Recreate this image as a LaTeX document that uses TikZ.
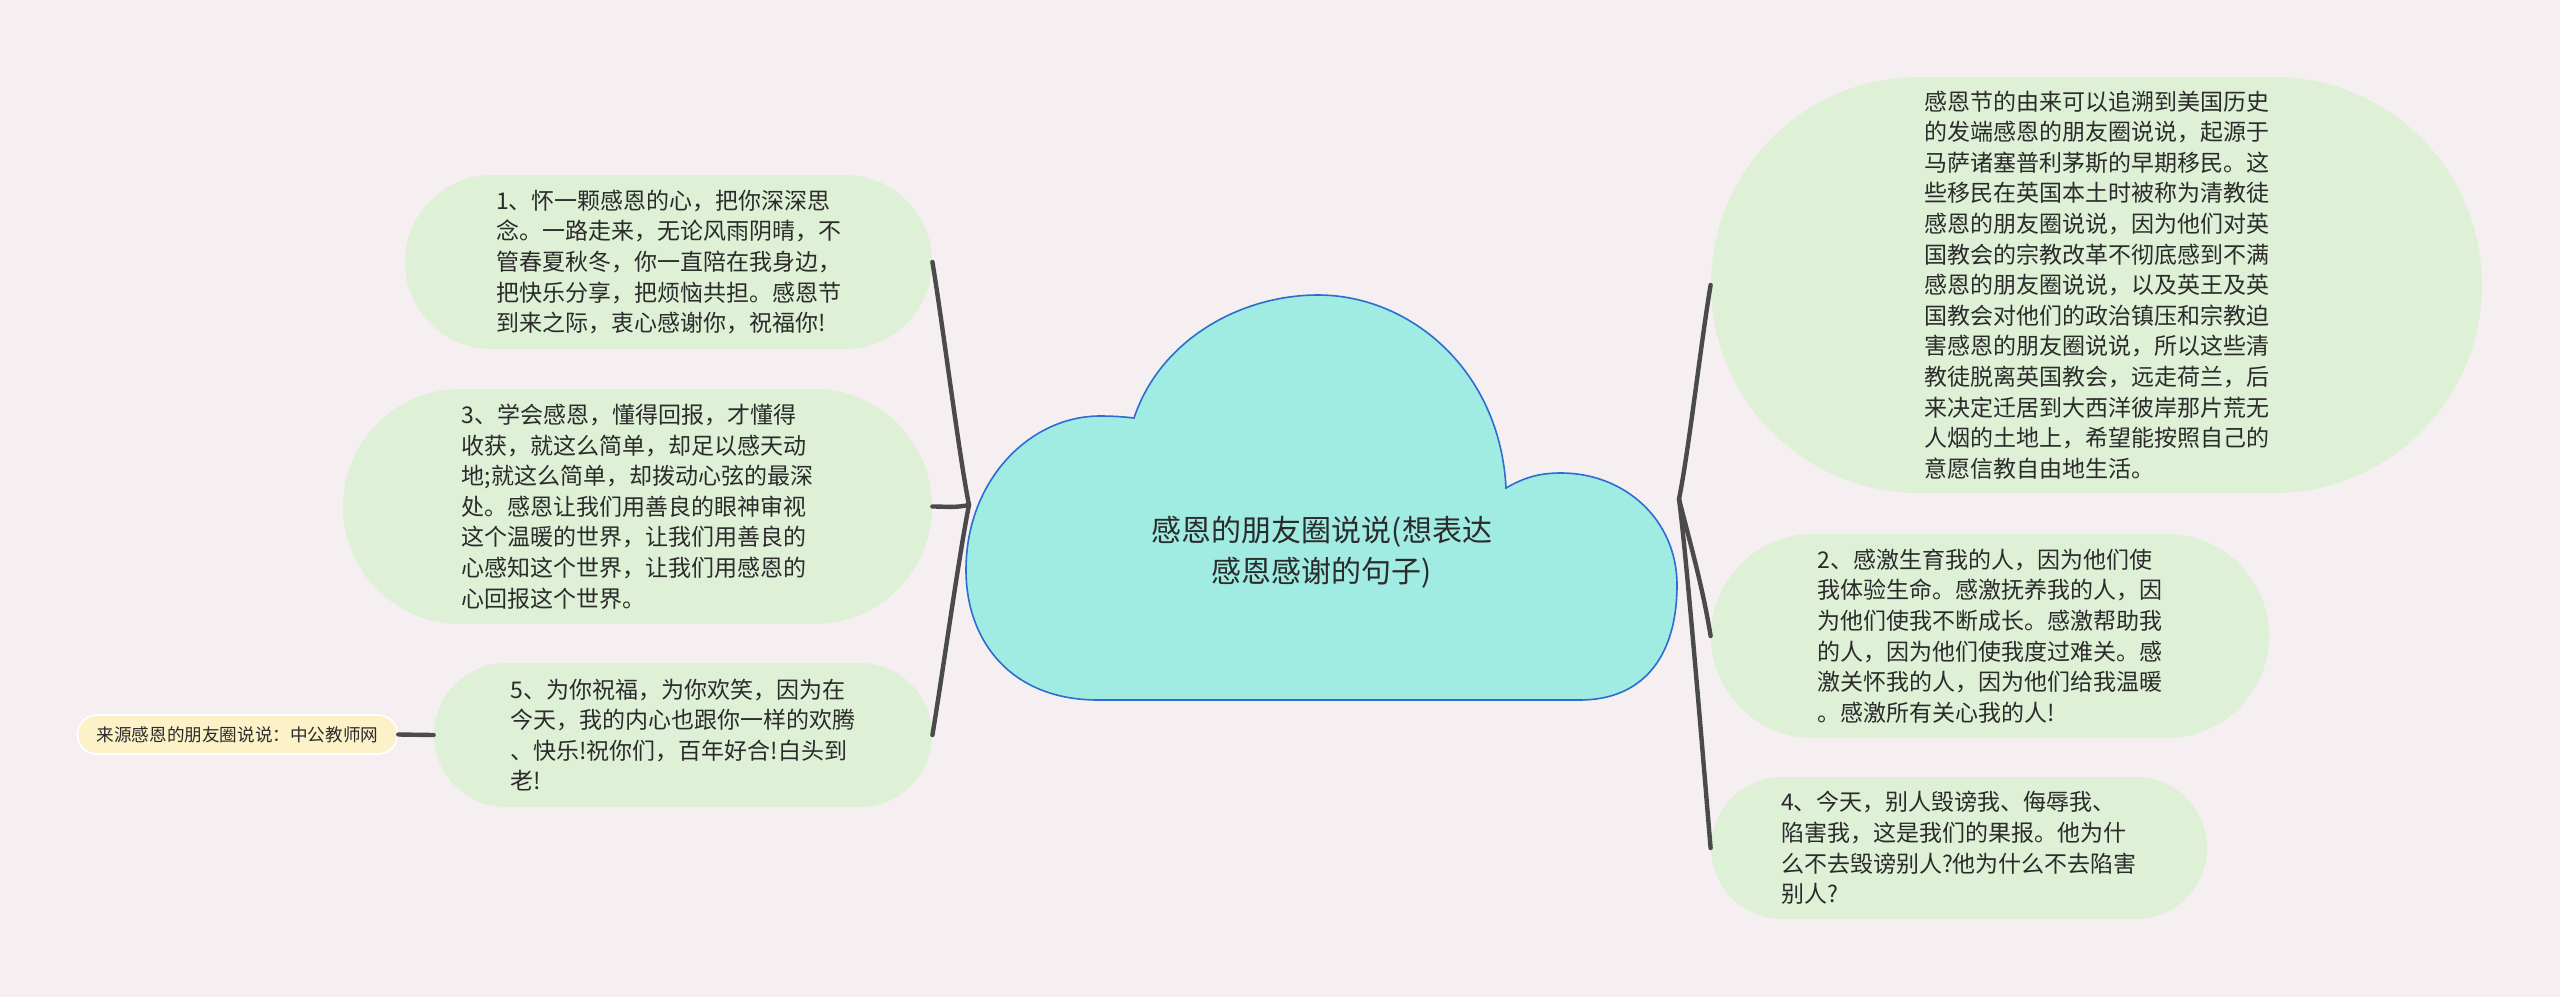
\documentclass[tikz,border=0pt]{standalone}
\usepackage{fontspec}
\setmainfont{Noto Sans CJK SC}
\usepackage{tikz}
\definecolor{paper}{HTML}{F6EFF1}
\definecolor{leaf}{HTML}{DEF0D6}
\definecolor{sky}{HTML}{A0EBE2}
\definecolor{rim}{HTML}{2C6DD2}
\definecolor{ink}{HTML}{2B2B2B}
\definecolor{lnk}{HTML}{4A4A4A}
\definecolor{note}{HTML}{FDF1C8}
\tikzset{
  leafbox/.style={fill=leaf,align=left,text=ink,inner sep=0pt,font=\fontsize{11.5}{15.3}\selectfont},
  srcbox/.style={fill=note,draw=white,line width=0.8pt,text=ink,inner sep=0pt,font=\fontsize{8.8}{10}\selectfont,minimum width=160pt,minimum height=19.5pt,rounded corners=9.7pt},
  rootlbl/.style={align=center,text=ink,font=\fontsize{15}{20.5}\selectfont},
  link/.style={draw=lnk,line width=2.2pt,line cap=round}}

\begin{document}
\begin{tikzpicture}[x=0.5pt,y=-0.5pt]
\fill[paper] (0,0) rectangle (2560,997);
\useasboundingbox (0,0) rectangle (2560,997);
\filldraw[fill=sky,draw=rim,line width=0.8pt] (1134,418) .. controls (1160,340) and (1240,295) .. (1318,295) .. controls (1410,295) and (1500,370) .. (1506,488) .. controls (1525,477) and (1540,473) .. (1561,473) .. controls (1625,473) and (1677,520) .. (1677,585) .. controls (1677,660) and (1640,700) .. (1580,700) -- (1098,700) .. controls (1010,700) and (966,640) .. (966,570) .. controls (966,480) and (1030,416) .. (1100,416) .. controls (1115,416) and (1125,417) .. (1134,418) -- cycle;
\node[rootlbl] (root) at (1322,552) {感恩的朋友圈说说(想表达\\感恩感谢的句子)};
\coordinate (rootL) at (969,505);
\coordinate (rootR) at (1679,499);
\node[leafbox,minimum width=263.5pt,minimum height=87pt,rounded corners=43.5pt] (t1) at (668.5,262) {1、怀一颗感恩的心，把你深深思\\念。一路走来，无论风雨阴晴，不\\管春夏秋冬，你一直陪在我身边，\\把快乐分享，把烦恼共担。感恩节\\到来之际，衷心感谢你，祝福你!};
\node[leafbox,minimum width=294.5pt,minimum height=117.5pt,rounded corners=58.7pt] (t3) at (637.5,506.5) {3、学会感恩，懂得回报，才懂得\\收获，就这么简单，却足以感天动\\地;就这么简单，却拨动心弦的最深\\处。感恩让我们用善良的眼神审视\\这个温暖的世界，让我们用善良的\\心感知这个世界，让我们用感恩的\\心回报这个世界。};
\node[leafbox,minimum width=249pt,minimum height=72pt,rounded corners=36pt] (t5) at (683,735) {5、为你祝福，为你欢笑，因为在\\今天，我的内心也跟你一样的欢腾\\、快乐!祝你们，百年好合!白头到\\老!};
\node[srcbox] (src) at (237.5,734.5) {来源感恩的朋友圈说说：中公教师网};
\node[leafbox,minimum width=385.5pt,minimum height=208pt,rounded corners=104pt] (r1) at (2096.5,285) {感恩节的由来可以追溯到美国历史\\的发端感恩的朋友圈说说，起源于\\马萨诸塞普利茅斯的早期移民。这\\些移民在英国本土时被称为清教徒\\感恩的朋友圈说说，因为他们对英\\国教会的宗教改革不彻底感到不满\\感恩的朋友圈说说，以及英王及英\\国教会对他们的政治镇压和宗教迫\\害感恩的朋友圈说说，所以这些清\\教徒脱离英国教会，远走荷兰，后\\来决定迁居到大西洋彼岸那片荒无\\人烟的土地上，希望能按照自己的\\意愿信教自由地生活。};
\node[leafbox,minimum width=279pt,minimum height=102pt,rounded corners=51pt] (t2) at (1990,636) {2、感激生育我的人，因为他们使\\我体验生命。感激抚养我的人，因\\为他们使我不断成长。感激帮助我\\的人，因为他们使我度过难关。感\\激关怀我的人，因为他们给我温暖\\。感激所有关心我的人!};
\node[leafbox,minimum width=248pt,minimum height=71pt,rounded corners=35.5pt] (t4) at (1959,848) {4、今天，别人毁谤我、侮辱我、\\陷害我，这是我们的果报。他为什\\么不去毁谤别人?他为什么不去陷害\\别人?};
\draw[link] (rootL) .. controls +(-10,-50) and +(10,60) .. (t1.east);
\draw[link] (rootL) .. controls +(-15,3) and +(15,0) .. (t3.east);
\draw[link] (rootL) .. controls +(-10,50) and +(10,-60) .. (t5.east);
\draw[link] (rootR) .. controls +(10,-50) and +(-10,60) .. (r1.west);
\draw[link] (rootR) .. controls +(10,40) and +(-8,-50) .. (t2.west);
\draw[link] (rootR) .. controls +(8,60) and +(-5,-60) .. (t4.west);
\draw[link] (src.east) -- (t5.west);
\end{tikzpicture}
\end{document}
